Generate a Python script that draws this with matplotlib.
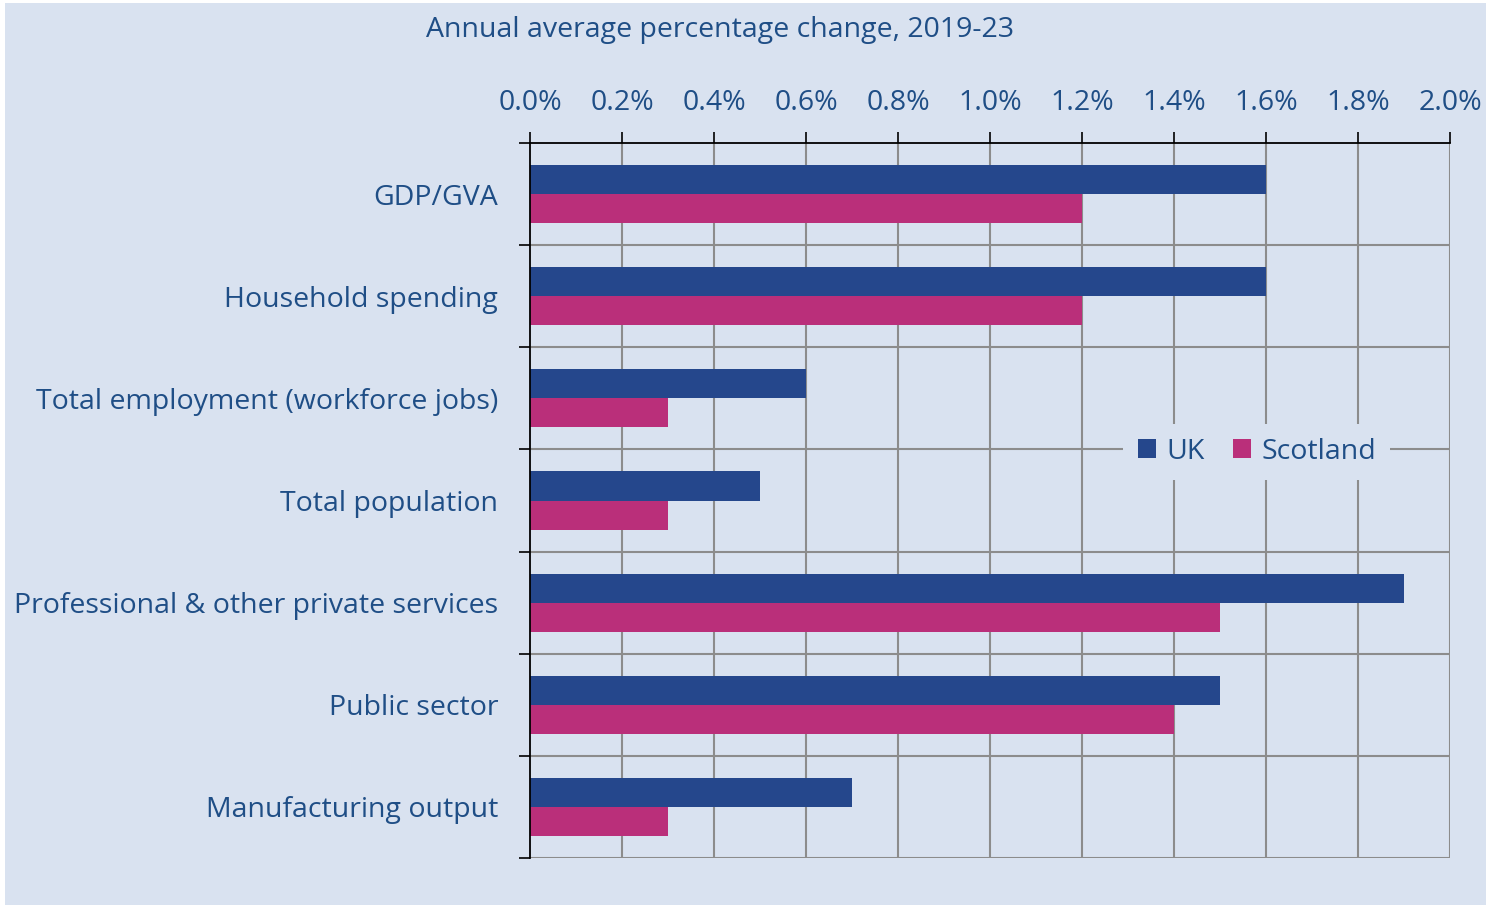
import matplotlib
matplotlib.use("Agg")
import matplotlib.pyplot as plt
from matplotlib.patches import Rectangle
import numpy as np

categories = ["GDP/GVA", "Household spending", "Total employment (workforce jobs)",
              "Total population", "Professional & other private services",
              "Public sector", "Manufacturing output"]
uk = [1.6, 1.6, 0.6, 0.5, 1.9, 1.5, 0.7]
scotland = [1.2, 1.2, 0.3, 0.3, 1.5, 1.4, 0.3]
xticks = [0.0, 0.2, 0.4, 0.6, 0.8, 1.0, 1.2, 1.4, 1.6, 1.8, 2.0]
xlabels = ["0.0%", "0.2%", "0.4%", "0.6%", "0.8%", "1.0%", "1.2%", "1.4%", "1.6%", "1.8%", "2.0%"]
title = "Annual average percentage change, 2019-23"

BG = "#D9E2F0"
UKC = "#25478C"
SCC = "#BA2F7A"
TXT = "#1F4E86"
FONT = "Open Sans"
FS = 20.5

W, H = 1489, 908
fig = plt.figure(figsize=(W/100, H/100), dpi=100, facecolor="white")
fig.patches.append(Rectangle((5/W, 3/H), (W-8)/W, (H-6)/H, transform=fig.transFigure,
                             facecolor=BG, edgecolor="none", zorder=-10))

l, r, t, b = 530, 1450, 143, 858
ax = fig.add_axes([l/W, 1-b/H, (r-l)/W, (b-t)/H])
ax.set_facecolor(BG)

n = len(categories)
y = np.arange(n)
h = 0.285
ax.barh(y - h/2, uk, height=h, color=UKC, label="UK", zorder=3)
ax.barh(y + h/2, scotland, height=h, color=SCC, label="Scotland", zorder=3)

ax.set_ylim(n - 0.5, -0.5)
ax.set_xlim(0, 2.0)
ax.xaxis.tick_top()
ax.set_xticks(xticks)
ax.set_xticklabels(xlabels, fontsize=FS, color=TXT, family=FONT)
ax.set_yticks(np.arange(n + 1) - 0.5, minor=False)
ax.set_yticklabels([""] * (n + 1))
ax.set_yticks(y, minor=True)
ax.set_yticklabels(categories, minor=True, fontsize=FS, color=TXT, family=FONT)
ax.tick_params(axis="y", which="minor", length=0, pad=23)
ax.tick_params(axis="y", which="major", length=8, color="black", width=1.2)
ax.tick_params(axis="x", which="major", length=8, color="black", width=1.2, pad=11)

for v in xticks[1:]:
    ax.axvline(v, color="#8C8C8C", lw=1.5, zorder=1)
for k in range(1, n + 1):
    ax.axhline(k - 0.5, color="#8C8C8C", lw=1.5, zorder=1)

for s in ["right", "bottom"]:
    ax.spines[s].set_visible(False)
ax.spines["top"].set_color("black")
ax.spines["left"].set_color("black")
ax.spines["top"].set_linewidth(1.3)
ax.spines["left"].set_linewidth(1.3)
ax.spines["top"].set_zorder(4)
ax.spines["left"].set_zorder(4)

leg = ax.legend(loc="center", bbox_to_anchor=(0.79, 0.568), ncol=2, frameon=True,
                facecolor=BG, edgecolor="none", framealpha=1, fancybox=False,
                prop={"family": FONT, "size": FS}, handlelength=0.65, handleheight=0.65,
                columnspacing=1.0, handletextpad=0.35, borderpad=0.5)
for txt in leg.get_texts():
    txt.set_color(TXT)
leg.set_zorder(5)

fig.text(720/W, 1-30/H, title, ha="center", va="center", fontsize=FS, color=TXT, family=FONT)

fig.savefig("out.png", dpi=100, facecolor="white")
